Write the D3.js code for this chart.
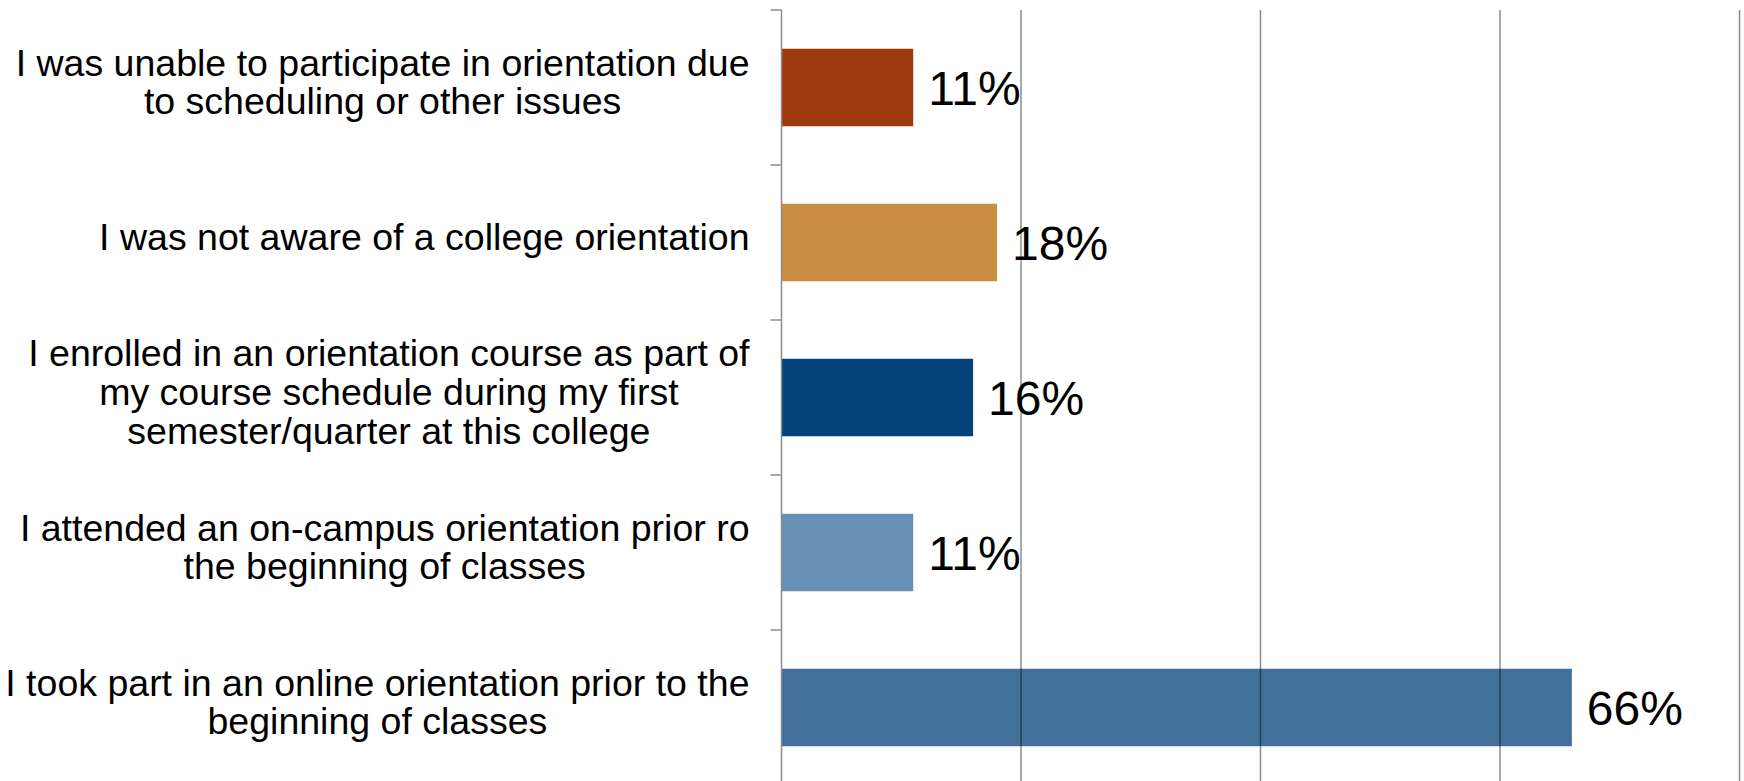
<!DOCTYPE html>
<html>
<head>
<meta charset="utf-8">
<script src="https://cdn.jsdelivr.net/npm/d3@7"></script>
<style>
    body { margin: 0; background: #fff; }
    svg { display: block; }
    text { font-family: "Liberation Sans", Arial, sans-serif; fill: #000; }
</style>
</head>
<body>
<svg id="orientation-chart" width="1744" height="781"></svg>
<script>
// Data (top to bottom)
const categories = [
    ["I was unable to participate in orientation due", "to scheduling or other issues"],
    ["I was not aware of a college orientation"],
    ["I enrolled in an orientation course as part of", "my course schedule during my first", "semester/quarter at this college"],
    ["I attended an on-campus orientation prior ro", "the beginning of classes"],
    ["I took part in an online orientation prior to the", "beginning of classes"]
];
const values = [11, 18, 16, 11, 66];
const barColors = ["#9d390d", "#c98d43", "#02427a", "#6890b4", "#41719b"];
const gridTicks = [20, 40, 60, 80];

const svg = d3.select("#orientation-chart"),
    margin = { top: 10, right: 4, bottom: -4, left: 781.5 },
    width = +svg.attr("width") - margin.left - margin.right,
    height = +svg.attr("height") - margin.top - margin.bottom;

const chart = svg.append("g")
    .attr("transform", `translate(${margin.left},${margin.top})`);

const ids = d3.range(categories.length);

const y = d3.scaleBand()
    .domain(ids)
    .range([0, height])
    .paddingInner(0.5)
    .paddingOuter(0.25);

const x = d3.scaleLinear()
    .domain([0, 80])
    .range([0, width - 0.5]);

// Bars
chart.selectAll(".bar")
    .data(values)
    .join("rect")
    .attr("class", "bar")
    .attr("x", 0)
    .attr("y", (d, i) => y(i))
    .attr("width", d => x(d))
    .attr("height", y.bandwidth())
    .attr("fill", (d, i) => barColors[i]);

// Vertical gridlines sit on top of the bars
chart.append("g")
    .selectAll("line")
    .data(gridTicks)
    .join("line")
    .attr("x1", d => x(d))
    .attr("x2", d => x(d))
    .attr("y1", 0)
    .attr("y2", height)
    .attr("stroke", "#000")
    .attr("stroke-opacity", 0.45)
    .attr("stroke-width", 1.5);

// Category axis with ticks at band edges
const step = y.step();
chart.append("line")
    .attr("x1", 0).attr("x2", 0)
    .attr("y1", 0).attr("y2", height)
    .attr("stroke", "#8c8c8c")
    .attr("stroke-width", 1.5);

chart.append("g")
    .selectAll("line")
    .data(d3.range(categories.length + 1))
    .join("line")
    .attr("x1", -11)
    .attr("x2", 0)
    .attr("y1", i => i * step)
    .attr("y2", i => i * step)
    .attr("stroke", "#8c8c8c")
    .attr("stroke-width", 1.5);

// Category labels (multi-line, centred, right edge near the axis)
const lineGap = 38.8;
const labels = chart.append("g")
    .selectAll("g")
    .data(categories)
    .join("g")
    .attr("transform", (d, i) => `translate(-32,${y(i) + y.bandwidth() / 2})`);

labels.each(function (lines) {
    const g = d3.select(this);
    const widths = [];
    const t = g.append("text")
        .attr("text-anchor", "middle")
        .style("font-size", "37.5px");
    lines.forEach((line, k) => {
        t.append("tspan")
            .attr("y", 7.5 + (k - (lines.length - 1) / 2) * lineGap)
            .text(line);
    });
    // right edge of the widest line sits at x = 0
    t.selectAll("tspan").each(function () { widths.push(this.getComputedTextLength()); });
    const w = d3.max(widths);
    t.selectAll("tspan").attr("x", -w / 2);
});

// Value labels
chart.selectAll(".value")
    .data(values)
    .join("text")
    .attr("class", "value")
    .attr("x", d => x(d) + 15)
    .attr("y", (d, i) => y(i) + y.bandwidth() / 2 + 17)
    .style("font-size", "48px")
    .text(d => d + "%");
</script>
</body>
</html>
